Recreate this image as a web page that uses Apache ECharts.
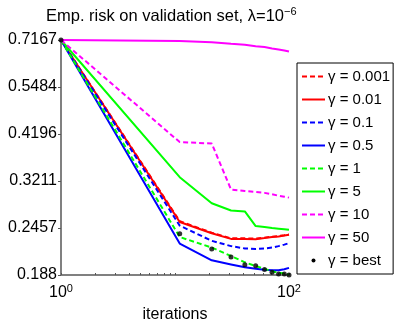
<!DOCTYPE html>
<html>
<head>
<meta charset="utf-8">
<script src="https://cdn.jsdelivr.net/npm/echarts@6/dist/echarts.min.js"></script>
<style>
  html, body { margin: 0; padding: 0; background: #fff; }
  #chart { width: 396px; height: 328px; }
</style>
</head>
<body>
<div id="chart"></div>
<script>
// iterations at which the validation risk was recorded
const iterations = [1, 11, 21, 31, 41, 51, 61, 71, 81, 91, 100];

const gamma0001 = [0.7167, 0.2555, 0.2392, 0.2316, 0.2316, 0.2313, 0.2326, 0.2339, 0.2347, 0.2358, 0.2368];
const gamma001  = [0.7167, 0.2543, 0.2385, 0.2309, 0.2309, 0.2306, 0.2321, 0.2334, 0.2341, 0.2353, 0.2363];
const gamma01   = [0.7167, 0.2490, 0.2284, 0.2216, 0.2187, 0.2181, 0.2187, 0.2198, 0.2216, 0.2235, 0.2254];
const gamma05   = [0.7167, 0.2248, 0.2044, 0.1997, 0.1964, 0.1947, 0.1936, 0.1931, 0.1931, 0.1942, 0.1958];
const gamma1    = [0.7167, 0.2334, 0.2198, 0.2095, 0.2021, 0.1979, 0.1947, 0.1921, 0.1905, 0.1895, 0.1885];
const gamma5    = [0.7167, 0.3281, 0.2828, 0.2715, 0.2700, 0.2484, 0.2470, 0.2457, 0.2448, 0.2440, 0.2433];
const gamma10   = [0.7167, 0.4007, 0.3976, 0.3058, 0.3034, 0.3017, 0.3001, 0.2977, 0.2953, 0.2937, 0.2921];
const gamma50   = [0.7167, 0.7129, 0.7071, 0.7014, 0.6976, 0.6920, 0.6883, 0.6827, 0.6790, 0.6753, 0.6710];
const gammaBest = [0.7167, 0.2378, 0.2179, 0.2084, 0.1994, 0.1982, 0.1939, 0.1911, 0.1890, 0.1890, 0.1881];

const yTicks = [0.188, 0.2457, 0.3211, 0.4196, 0.5484, 0.7167];
const yTickLabels = ['0.188', '0.2457', '0.3211', '0.4196', '0.5484', '0.7167'];
const xTicks = [1, 2, 3, 4, 5, 6, 7, 8, 9, 10, 20, 30, 40, 50, 60, 70, 80, 90, 100];
const xLabelValues = [1, 100];
const xLabelExps = ['0', '2'];

const FONT = '"Liberation Sans", Arial, Helvetica, sans-serif';
const RED = '#ff0000', BLUE = '#0000ff', GREEN = '#00ff00', MAGENTA = '#ff00ff';
const DASH = [5, 3];

const pairs = ys => iterations.map((x, i) => [x, ys[i]]);

function lineSeries(name, ys, color, dashed) {
  return {
    name: name,
    type: 'line',
    data: pairs(ys),
    symbol: 'none',
    lineStyle: { color: color, width: 2, type: dashed ? DASH : 'solid' },
    itemStyle: { color: color },
    emphasis: { disabled: true }
  };
}

const chart = echarts.init(document.getElementById('chart'));

chart.setOption({
  animation: false,
  textStyle: { fontFamily: FONT },
  title: {
    text: '{a|Emp. risk on validation set, λ=10}{s|−6}',
    left: 46,
    top: 6,
    padding: 0,
    textStyle: {
      fontWeight: 'normal',
      rich: {
        a: { fontSize: 16.5, lineHeight: 20, fontWeight: 'normal', color: '#000', fontFamily: FONT },
        s: { fontSize: 11, verticalAlign: 'top', fontWeight: 'normal', color: '#000', fontFamily: FONT }
      }
    }
  },
  grid: { left: 61, right: 107, top: 40, bottom: 40 },
  legend: {
    orient: 'vertical',
    left: 297,
    top: 63,
    padding: [6, 3, 6, 4],
    itemWidth: 23,
    itemHeight: 14,
    itemGap: 8,
    borderColor: '#000',
    borderWidth: 1,
    backgroundColor: '#fff',
    itemStyle: { opacity: 0 },
    textStyle: { fontSize: 15, color: '#000', fontFamily: FONT, padding: [0, 0, 0, -2] },
    data: [
      'γ = 0.001', 'γ = 0.01', 'γ = 0.1', 'γ = 0.5', 'γ = 1', 'γ = 5', 'γ = 10', 'γ = 50',
      { name: 'γ = best', icon: 'path://M0,0M14,14M5,7a2,2,0,1,0,4,0a2,2,0,1,0,-4,0', itemStyle: { opacity: 1, color: '#000' } }
    ]
  },
  xAxis: {
    type: 'log',
    logBase: 10,
    min: 1,
    max: 100,
    name: 'iterations',
    nameLocation: 'middle',
    nameGap: 32,
    nameTextStyle: { fontSize: 16, color: '#000', fontFamily: FONT },
    axisLine: { lineStyle: { color: '#808080', width: 2 } },
    axisTick: { show: true, inside: true, length: 2, customValues: xTicks, lineStyle: { color: '#555', width: 1 } },
    axisLabel: {
      customValues: xLabelValues,
      margin: 8,
      formatter: function (v) {
        const i = xLabelValues.findIndex(t => Math.abs(t - v) < 1e-6);
        return i < 0 ? '' : '{b|10}{s|' + xLabelExps[i] + '}';
      },
      rich: {
        b: { fontSize: 16, lineHeight: 20, color: '#000', fontFamily: FONT },
        s: { fontSize: 11, verticalAlign: 'top', color: '#000', fontFamily: FONT }
      }
    },
    splitLine: { show: false },
    minorTick: { show: false }
  },
  yAxis: {
    type: 'log',
    logBase: 10,
    min: 0.188,
    max: 0.7167,
    axisLine: { show: true, lineStyle: { color: '#808080', width: 2 } },
    axisTick: { show: true, length: 3, customValues: yTicks, lineStyle: { color: '#555', width: 1 } },
    axisLabel: {
      customValues: yTicks,
      margin: 4,
      fontSize: 16,
      color: '#000',
      fontFamily: FONT,
      formatter: function (v) {
        const i = yTicks.findIndex(t => Math.abs(t - v) < 1e-6);
        return i < 0 ? '' : yTickLabels[i];
      }
    },
    splitLine: { show: false }
  },
  series: [
    lineSeries('γ = 0.001', gamma0001, RED, true),
    lineSeries('γ = 0.01', gamma001, RED, false),
    lineSeries('γ = 0.1', gamma01, BLUE, true),
    lineSeries('γ = 0.5', gamma05, BLUE, false),
    lineSeries('γ = 1', gamma1, GREEN, true),
    lineSeries('γ = 5', gamma5, GREEN, false),
    lineSeries('γ = 10', gamma10, MAGENTA, true),
    lineSeries('γ = 50', gamma50, MAGENTA, false),
    {
      name: 'γ = best',
      type: 'scatter',
      data: pairs(gammaBest),
      symbol: 'circle',
      symbolSize: 5,
      itemStyle: { color: '#000' },
      z: 5,
      emphasis: { disabled: true }
    }
  ]
});
</script>
</body>
</html>
